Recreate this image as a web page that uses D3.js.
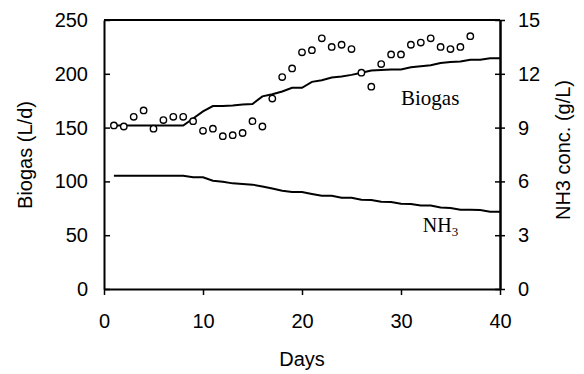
<!DOCTYPE html>
<html>
<head>
<meta charset="utf-8">
<script src="https://cdn.jsdelivr.net/npm/d3@7/dist/d3.min.js"></script>
<style>
  body { margin: 0; background: #fff; }
  svg text { fill: #000; }
</style>
</head>
<body>
<svg id="chart" width="584" height="374"></svg>
<script>
// measured biogas production (circles)
const measDays = [1, 2, 3, 4, 5, 6, 7, 8, 9, 10, 11, 12, 13, 14, 15, 16, 17, 18, 19, 20,
  21, 22, 23, 24, 25, 26, 27, 28, 29, 30, 31, 32, 33, 34, 35, 36, 37];
const measBiogas = [152, 151, 160, 166, 149, 157, 160, 160, 156, 147, 149, 142, 143, 145, 156, 151, 177, 197, 205, 220,
  222, 233, 225, 227, 223, 201, 188, 209, 218, 218, 227, 229, 233, 225, 223, 225, 235];

// model lines
const modelDays = [1, 2, 3, 4, 5, 6, 7, 8, 9, 10, 11, 12, 13, 14, 15, 16, 17, 18, 19, 20,
  21, 22, 23, 24, 25, 26, 27, 28, 29, 30, 31, 32, 33, 34, 35, 36, 37, 38, 39, 40];
const modelBiogas = [152, 152, 152, 152, 152, 152, 152, 152, 158.5, 165, 170, 170, 170.5, 171.5, 172, 179, 181, 183.5, 187, 187,
  192.5, 194, 196.5, 197.5, 199, 201, 203, 203.5, 204, 204, 206, 207, 208, 210, 211, 211.5, 213, 213, 214.5, 214.5];
const modelNH3 = [6.32, 6.32, 6.32, 6.32, 6.32, 6.32, 6.32, 6.32, 6.23, 6.23, 6.04, 5.98, 5.89, 5.86, 5.82, 5.71, 5.6, 5.48, 5.41, 5.41,
  5.3, 5.2, 5.2, 5.09, 5.09, 4.98, 4.96, 4.87, 4.85, 4.76, 4.74, 4.65, 4.65, 4.54, 4.52, 4.42, 4.42, 4.4, 4.31, 4.31];

const xTicks = [0, 10, 20, 30, 40];
const leftTicks = [0, 50, 100, 150, 200, 250];
const rightTicks = [0, 3, 6, 9, 12, 15];

const margin = { top: 20, right: 84, bottom: 85, left: 104 };
const width = 584 - margin.left - margin.right;
const height = 374 - margin.top - margin.bottom;
const sans = "Arial, 'Liberation Sans', sans-serif";
const serif = "'Times New Roman', 'Liberation Serif', serif";

const svg = d3.select("#chart");
const g = svg.append("g").attr("transform", `translate(${margin.left},${margin.top})`);

const x = d3.scaleLinear().domain([0, 40]).range([0, width]);
const yL = d3.scaleLinear().domain([0, 250]).range([height, 0]);
const yR = d3.scaleLinear().domain([0, 15]).range([height, 0]);

function styleAxis(sel) {
  sel.select(".domain").attr("stroke", "#000").attr("stroke-width", 2);
  sel.selectAll(".tick line").attr("stroke", "#000").attr("stroke-width", 1.5);
  sel.selectAll("text").attr("font-family", sans).attr("font-size", 20).attr("fill", "#000");
}

// top border
g.append("line")
  .attr("x1", 0).attr("x2", width).attr("y1", 0).attr("y2", 0)
  .attr("stroke", "#000").attr("stroke-width", 2);

g.append("g")
  .attr("transform", `translate(0,${height})`)
  .call(d3.axisBottom(x).tickValues(xTicks).tickSizeInner(6).tickSizeOuter(0).tickPadding(19))
  .call(styleAxis);

g.append("g")
  .call(d3.axisLeft(yL).tickValues(leftTicks).tickSizeInner(-6).tickSizeOuter(0).tickPadding(16))
  .call(styleAxis);

// right axis, ticks crossing the line
g.append("g")
  .attr("transform", `translate(${width},0)`)
  .call(d3.axisRight(yR).tickValues(rightTicks).tickFormat("").tickSizeInner(-5).tickSizeOuter(0))
  .call(styleAxis);
g.append("g")
  .attr("transform", `translate(${width},0)`)
  .call(d3.axisRight(yR).tickValues(rightTicks).tickSizeInner(5).tickSizeOuter(0).tickPadding(13))
  .call(styleAxis);

const lineL = d3.line().x((d, i) => x(modelDays[i])).y(d => yL(d));
const lineR = d3.line().x((d, i) => x(modelDays[i])).y(d => yR(d));

g.append("path").datum(modelBiogas)
  .attr("d", lineL).attr("fill", "none").attr("stroke", "#000").attr("stroke-width", 2);
g.append("path").datum(modelNH3)
  .attr("d", lineR).attr("fill", "none").attr("stroke", "#000").attr("stroke-width", 2);

g.append("g").selectAll("circle")
  .data(measBiogas)
  .join("circle")
  .attr("cx", (d, i) => x(measDays[i]))
  .attr("cy", d => yL(d))
  .attr("r", 3.2)
  .attr("fill", "#fff")
  .attr("stroke", "#000")
  .attr("stroke-width", 1.4);

// series labels
g.append("text")
  .attr("x", x(30)).attr("y", yL(171))
  .attr("font-family", serif).attr("font-size", 21)
  .text("Biogas");

const nh = g.append("text")
  .attr("x", x(32.2)).attr("y", yR(3.16))
  .attr("font-family", serif).attr("font-size", 20);
nh.append("tspan").text("NH");
nh.append("tspan").attr("font-size", 13).attr("dy", 4).text("3");

// axis titles
svg.append("text")
  .attr("transform", "translate(32,155) rotate(-90)")
  .attr("text-anchor", "middle")
  .attr("font-family", sans).attr("font-size", 20)
  .text("Biogas (L/d)");

svg.append("text")
  .attr("transform", "translate(570,150) rotate(-90)")
  .attr("text-anchor", "middle")
  .attr("font-family", sans).attr("font-size", 20)
  .text("NH3 conc. (g/L)");

svg.append("text")
  .attr("x", margin.left + width / 2).attr("y", 366)
  .attr("text-anchor", "middle")
  .attr("font-family", sans).attr("font-size", 20)
  .text("Days");
</script>
</body>
</html>
